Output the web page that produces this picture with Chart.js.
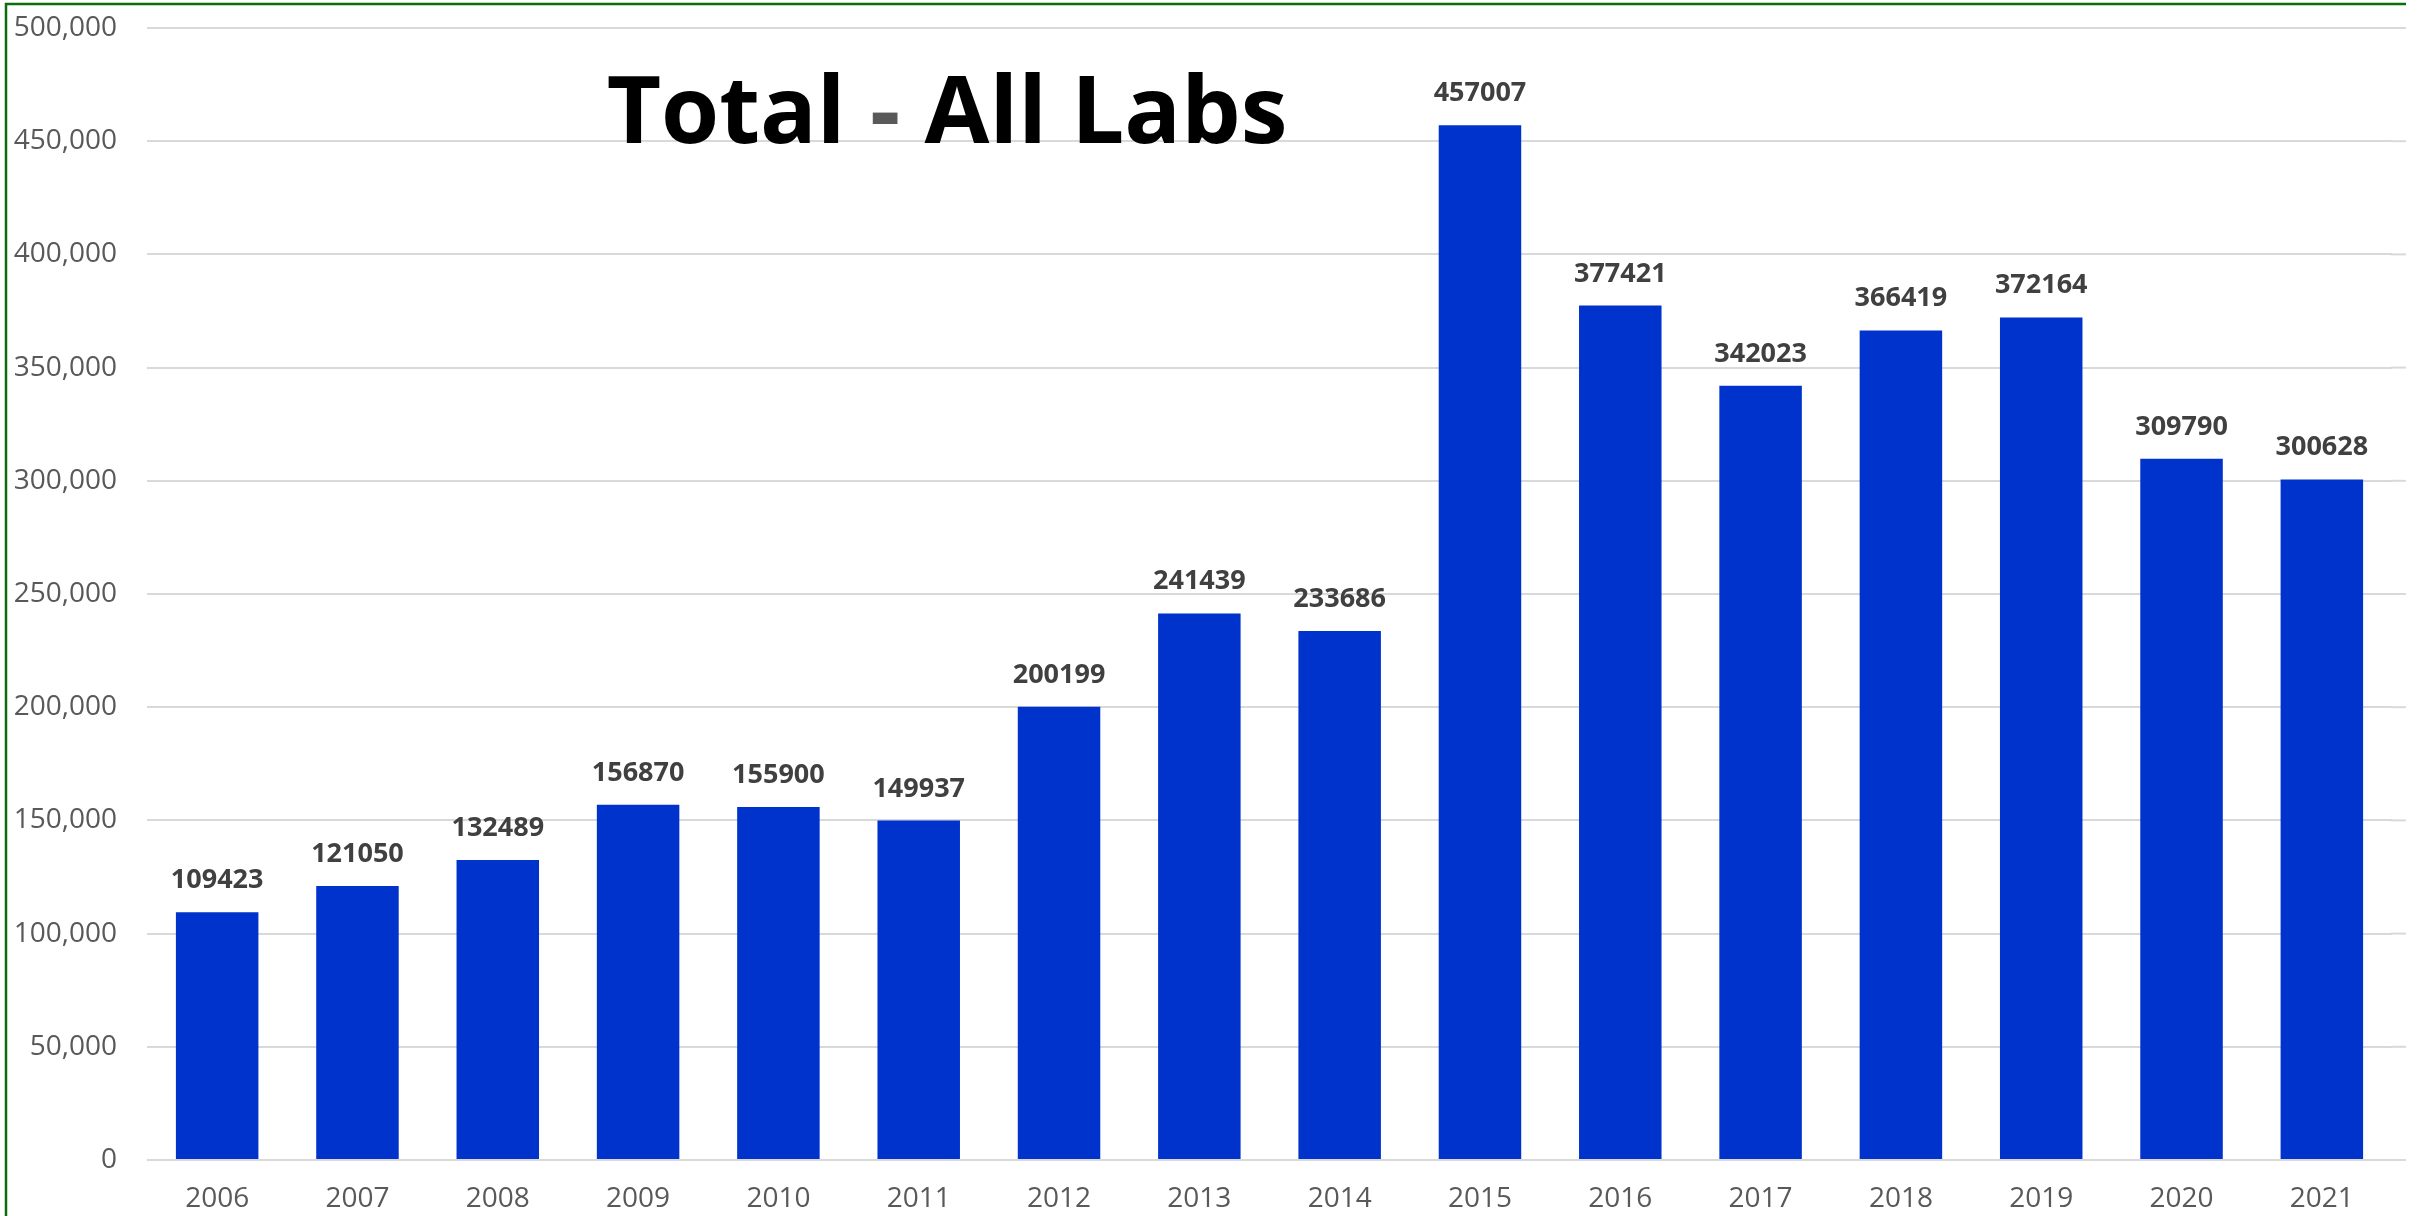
<!DOCTYPE html>
<html>
<head>
<meta charset="utf-8">
<script src="https://cdn.jsdelivr.net/npm/chart.js@4/dist/chart.umd.min.js"></script>
<style>
  html, body { margin: 0; padding: 0; background: #ffffff; }
  #c { display: block; }
</style>
</head>
<body>
<canvas id="c" width="2423" height="1216"></canvas>
<script>
const years = ["2006","2007","2008","2009","2010","2011","2012","2013","2014","2015","2016","2017","2018","2019","2020","2021"];
const totals = [109423,121050,132489,156870,155900,149937,200199,241439,233686,457007,377421,342023,366419,372164,309790,300628];
const titleParts = ["Total ", "-", " All Labs"];
const yTickMax = 500000;
const yTickStep = 50000;

const FONT = '"Open Sans", "Liberation Sans", sans-serif';

const decorPlugin = {
  id: 'decor',
  beforeDatasetsDraw(chart) {
    const ctx = chart.ctx, ca = chart.chartArea, ys = chart.scales.y;
    ctx.save();
    ctx.strokeStyle = '#d9d9d9';
    ctx.lineWidth = 2;
    ys.ticks.forEach(t => {
      const y = ys.getPixelForValue(t.value);
      ctx.beginPath();
      ctx.moveTo(ca.right - 1, y);
      ctx.lineTo(ca.right + 14, y);
      ctx.stroke();
    });
    ctx.restore();
  },
  afterDatasetsDraw(chart) {
    const ctx = chart.ctx;
    const meta = chart.getDatasetMeta(0);
    ctx.save();
    ctx.font = 'bold 27px ' + FONT;
    ctx.fillStyle = '#404040';
    ctx.textAlign = 'center';
    ctx.textBaseline = 'alphabetic';
    meta.data.forEach((bar, i) => {
      ctx.fillText(String(chart.data.datasets[0].data[i]), bar.x, bar.y - 24);
    });
    ctx.restore();
  },
  afterDraw(chart) {
    const ctx = chart.ctx;
    ctx.save();
    ctx.font = 'bold 94px ' + FONT;
    ctx.textBaseline = 'alphabetic';
    ctx.textAlign = 'left';
    const widths = titleParts.map(p => ctx.measureText(p).width);
    const total = widths.reduce((a, b) => a + b, 0);
    let x = 947 - total / 2;
    const colors = ['#000000', '#595959', '#000000'];
    titleParts.forEach((p, i) => {
      ctx.fillStyle = colors[i];
      ctx.fillText(p, x, 143);
      x += widths[i];
    });
    ctx.strokeStyle = '#0b6e0b';
    ctx.lineWidth = 2.5;
    ctx.beginPath();
    ctx.moveTo(2406, 4);
    ctx.lineTo(6, 4);
    ctx.lineTo(6, 1216);
    ctx.stroke();
    ctx.restore();
  }
};

new Chart(document.getElementById('c'), {
  type: 'bar',
  data: {
    labels: years,
    datasets: [{
      data: totals,
      backgroundColor: '#0033CC',
      borderWidth: 0,
      barPercentage: 0.588,
      categoryPercentage: 1.0
    }]
  },
  options: {
    responsive: false,
    devicePixelRatio: 1,
    animation: false,
    events: [],
    layout: { padding: { top: 28, right: 31, bottom: 0, left: 0 }, autoPadding: false },
    plugins: {
      legend: { display: false },
      title: { display: false },
      tooltip: { enabled: false }
    },
    scales: {
      x: {
        grid: { display: false, drawTicks: false },
        border: { display: false },
        ticks: {
          color: '#595959',
          font: { family: FONT, size: 28 },
          padding: 22,
          maxRotation: 0,
          autoSkip: false
        },
        afterFit(scale) { scale.height = 56; scale.paddingLeft = 0; scale.paddingRight = 0; }
      },
      y: {
        min: 0,
        max: yTickMax,
        grid: { color: '#d9d9d9', lineWidth: 2, drawTicks: false },
        border: { display: false },
        ticks: {
          stepSize: yTickStep,
          color: '#595959',
          font: { family: FONT, size: 28 },
          padding: 30,
          callback: v => Number(v).toLocaleString('en-US')
        },
        afterFit(scale) { scale.width = 147; scale.paddingTop = 0; scale.paddingBottom = 0; }
      }
    }
  },
  plugins: [decorPlugin]
});
</script>
</body>
</html>
